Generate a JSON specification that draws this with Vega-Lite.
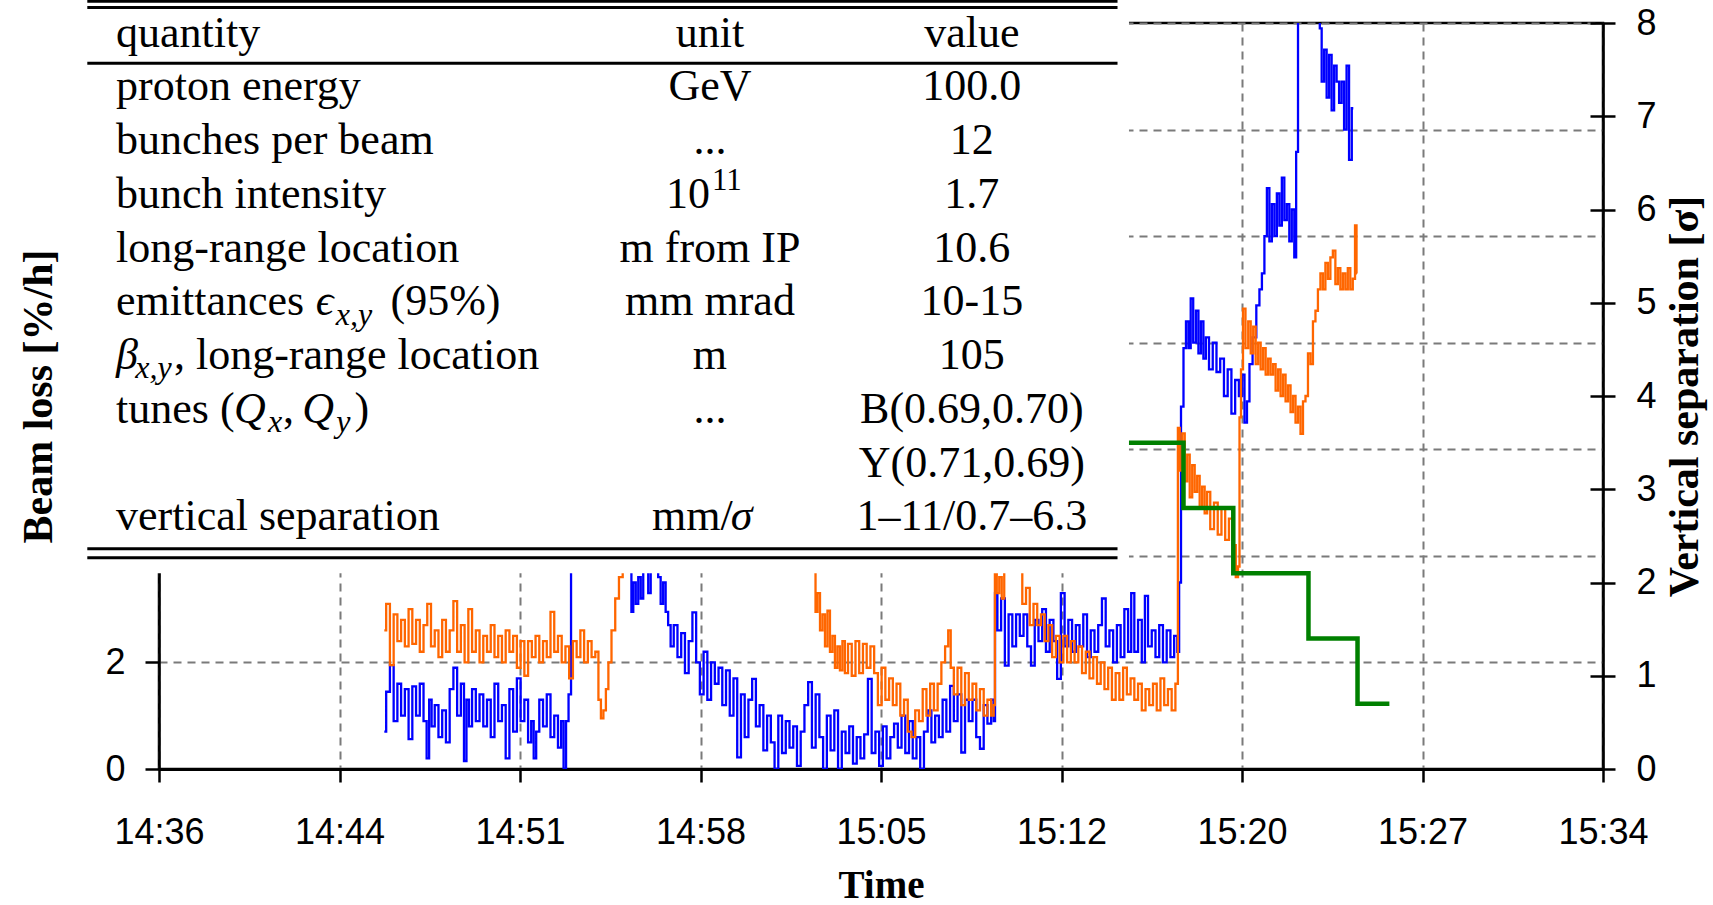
{
"$schema": "https://vega.github.io/schema/vega-lite/v6.json",
"width": 1444,
"height": 746,
"autosize": "none",
"padding": {"left": 159, "top": 23, "right": 110, "bottom": 136},
"background": "white",
"config": {
  "view": {"stroke": "black", "strokeWidth": 2.5},
  "axis": {"zindex": 0, "labelColor": "black", "titleColor": "black", "domainColor": "black", "tickColor": "black", "labelFont": "Liberation Sans", "labelFontSize": 36, "titleFont": "Liberation Serif", "titleFontWeight": "bold", "gridColor": "#7a7a7a", "gridDash": [8, 6], "gridWidth": 2, "domainWidth": 2.5, "tickWidth": 2.5, "labelFlush": false, "labelOverlap": false}
},
"datasets": {
  "blue": [
    {"t":9.05,"loss":0.7},{"t":9.2,"loss":1.45},{"t":9.35,"loss":1.95},{"t":9.5,"loss":0.9},{"t":9.65,"loss":1.6},{"t":9.8,"loss":1.0},{"t":9.95,"loss":1.5},{"t":10.1,"loss":0.56},{"t":10.25,"loss":1.55},{"t":10.4,"loss":1.0},{"t":10.55,"loss":1.6},{"t":10.7,"loss":0.9},{"t":10.8,"loss":0.2},{"t":10.9,"loss":1.3},{"t":11.0,"loss":0.8},{"t":11.15,"loss":1.2},{"t":11.3,"loss":0.6},{"t":11.45,"loss":1.1},{"t":11.6,"loss":0.5},{"t":11.75,"loss":1.5},{"t":11.9,"loss":1.9},{"t":12.05,"loss":1.0},{"t":12.2,"loss":1.6},{"t":12.3,"loss":0.15},{"t":12.4,"loss":1.3},{"t":12.5,"loss":0.8},{"t":12.65,"loss":1.5},{"t":12.8,"loss":0.9},{"t":12.95,"loss":1.4},{"t":13.1,"loss":0.8},{"t":13.25,"loss":1.3},{"t":13.4,"loss":0.6},{"t":13.55,"loss":1.6},{"t":13.7,"loss":0.9},{"t":13.85,"loss":1.2},{"t":14.0,"loss":0.2},{"t":14.15,"loss":1.5},{"t":14.3,"loss":0.7},{"t":14.45,"loss":1.7},{"t":14.6,"loss":0.9},{"t":14.75,"loss":1.3},{"t":14.9,"loss":0.5},{"t":15.0,"loss":0.9},{"t":15.1,"loss":0.2},{"t":15.2,"loss":0.7},{"t":15.35,"loss":1.3},{"t":15.5,"loss":0.8},{"t":15.65,"loss":1.4},{"t":15.8,"loss":0.6},{"t":15.95,"loss":1.0},{"t":16.1,"loss":0.4},{"t":16.2,"loss":0.9},{"t":16.3,"loss":0.0},{"t":16.4,"loss":0.9},{"t":16.5,"loss":1.4},{"t":16.6,"loss":4.5},{"t":17.0,"loss":5.5},{"t":17.5,"loss":6.0},{"t":18.0,"loss":6.2},{"t":18.5,"loss":5.0},{"t":18.95,"loss":4.0},{"t":19.0,"loss":2.95},{"t":19.1,"loss":3.5},{"t":19.2,"loss":3.1},{"t":19.3,"loss":3.6},{"t":19.4,"loss":3.2},{"t":19.5,"loss":3.9},{"t":19.6,"loss":4.1},{"t":19.7,"loss":3.3},{"t":19.8,"loss":3.9},{"t":19.9,"loss":4.2},{"t":20.0,"loss":4.0},{"t":20.1,"loss":3.6},{"t":20.2,"loss":3.1},{"t":20.3,"loss":3.5},{"t":20.4,"loss":2.95},{"t":20.5,"loss":2.7},{"t":20.6,"loss":2.3},{"t":20.75,"loss":2.7},{"t":20.9,"loss":2.1},{"t":21.05,"loss":2.55},{"t":21.2,"loss":1.8},{"t":21.35,"loss":2.4},{"t":21.5,"loss":2.94},{"t":21.65,"loss":2.0},{"t":21.8,"loss":1.4},{"t":21.95,"loss":2.2},{"t":22.1,"loss":1.3},{"t":22.25,"loss":2.0},{"t":22.4,"loss":1.6},{"t":22.55,"loss":1.9},{"t":22.7,"loss":1.2},{"t":22.85,"loss":1.85},{"t":23.0,"loss":1.0},{"t":23.15,"loss":1.7},{"t":23.3,"loss":0.22},{"t":23.45,"loss":1.4},{"t":23.6,"loss":0.6},{"t":23.75,"loss":1.3},{"t":23.9,"loss":1.69},{"t":24.05,"loss":0.8},{"t":24.2,"loss":1.2},{"t":24.35,"loss":0.35},{"t":24.5,"loss":1.0},{"t":24.65,"loss":0.5},{"t":24.8,"loss":0.0},{"t":24.95,"loss":1.0},{"t":25.1,"loss":0.3},{"t":25.25,"loss":0.9},{"t":25.4,"loss":0.4},{"t":25.55,"loss":0.8},{"t":25.7,"loss":0.06},{"t":25.85,"loss":0.7},{"t":26.0,"loss":1.2},{"t":26.15,"loss":1.63},{"t":26.3,"loss":0.4},{"t":26.45,"loss":1.4},{"t":26.6,"loss":0.6},{"t":26.75,"loss":0.0},{"t":26.9,"loss":1.0},{"t":27.05,"loss":0.35},{"t":27.2,"loss":1.1},{"t":27.35,"loss":0.0},{"t":27.5,"loss":0.7},{"t":27.65,"loss":0.3},{"t":27.8,"loss":0.8},{"t":27.95,"loss":0.1},{"t":28.1,"loss":0.6},{"t":28.25,"loss":0.2},{"t":28.4,"loss":0.65},{"t":28.55,"loss":1.69},{"t":28.7,"loss":0.3},{"t":28.85,"loss":0.7},{"t":29.0,"loss":0.06},{"t":29.15,"loss":0.8},{"t":29.3,"loss":0.2},{"t":29.45,"loss":0.6},{"t":29.6,"loss":0.85},{"t":29.75,"loss":0.4},{"t":29.9,"loss":1.0},{"t":30.05,"loss":0.3},{"t":30.2,"loss":0.9},{"t":30.35,"loss":0.2},{"t":30.5,"loss":0.6},{"t":30.65,"loss":0.0},{"t":30.8,"loss":0.7},{"t":30.95,"loss":1.1},{"t":31.1,"loss":0.5},{"t":31.25,"loss":1.0},{"t":31.4,"loss":0.6},{"t":31.55,"loss":1.3},{"t":31.7,"loss":0.7},{"t":31.85,"loss":1.56},{"t":32.0,"loss":0.9},{"t":32.15,"loss":1.4},{"t":32.3,"loss":0.31},{"t":32.45,"loss":1.3},{"t":32.6,"loss":0.9},{"t":32.75,"loss":1.3},{"t":32.9,"loss":0.6},{"t":33.05,"loss":0.38},{"t":33.2,"loss":1.2},{"t":33.35,"loss":0.85},{"t":33.5,"loss":1.3},{"t":33.56,"loss":0.9},{"t":33.6,"loss":3.3},{"t":33.75,"loss":2.6},{"t":33.9,"loss":3.2},{"t":34.05,"loss":1.94},{"t":34.2,"loss":2.9},{"t":34.35,"loss":2.3},{"t":34.5,"loss":2.9},{"t":34.65,"loss":2.5},{"t":34.8,"loss":2.9},{"t":34.95,"loss":2.3},{"t":35.1,"loss":1.94},{"t":35.25,"loss":2.8},{"t":35.4,"loss":2.4},{"t":35.55,"loss":3.0},{"t":35.7,"loss":2.2},{"t":35.85,"loss":2.8},{"t":36.0,"loss":2.4},{"t":36.15,"loss":1.69},{"t":36.3,"loss":3.3},{"t":36.45,"loss":2.3},{"t":36.6,"loss":2.8},{"t":36.75,"loss":2.2},{"t":36.9,"loss":2.7},{"t":37.05,"loss":2.3},{"t":37.2,"loss":2.9},{"t":37.35,"loss":2.1},{"t":37.5,"loss":2.6},{"t":37.65,"loss":2.2},{"t":37.8,"loss":2.7},{"t":37.95,"loss":3.2},{"t":38.1,"loss":2.3},{"t":38.25,"loss":2.6},{"t":38.4,"loss":2.0},{"t":38.55,"loss":2.7},{"t":38.7,"loss":2.1},{"t":38.85,"loss":3.0},{"t":39.0,"loss":2.2},{"t":39.1,"loss":3.3},{"t":39.25,"loss":2.2},{"t":39.4,"loss":2.8},{"t":39.55,"loss":2.0},{"t":39.65,"loss":3.25},{"t":39.8,"loss":2.3},{"t":39.95,"loss":2.6},{"t":40.1,"loss":2.1},{"t":40.25,"loss":2.7},{"t":40.4,"loss":2.0},{"t":40.55,"loss":2.6},{"t":40.7,"loss":2.1},{"t":40.85,"loss":2.5},{"t":40.95,"loss":2.2},{"t":41.0,"loss":3.5},{"t":41.1,"loss":6.8},{"t":41.2,"loss":7.9},{"t":41.3,"loss":8.4},{"t":41.4,"loss":7.9},{"t":41.48,"loss":8.83},{"t":41.6,"loss":8.0},{"t":41.7,"loss":8.6},{"t":41.8,"loss":7.8},{"t":41.9,"loss":8.4},{"t":42.0,"loss":7.7},{"t":42.1,"loss":8.1},{"t":42.25,"loss":7.5},{"t":42.4,"loss":8.0},{"t":42.55,"loss":7.45},{"t":42.7,"loss":7.7},{"t":42.85,"loss":7.0},{"t":43.0,"loss":7.5},{"t":43.15,"loss":6.67},{"t":43.3,"loss":7.3},{"t":43.45,"loss":7.0},{"t":43.55,"loss":7.4},{"t":43.65,"loss":6.5},{"t":43.75,"loss":6.9},{"t":43.85,"loss":7.6},{"t":44.0,"loss":8.1},{"t":44.15,"loss":8.7},{"t":44.25,"loss":9.0},{"t":44.35,"loss":9.3},{"t":44.45,"loss":10.0},{"t":44.55,"loss":10.9},{"t":44.65,"loss":9.9},{"t":44.75,"loss":10.6},{"t":44.85,"loss":10.0},{"t":44.95,"loss":10.8},{"t":45.05,"loss":10.2},{"t":45.15,"loss":11.1},{"t":45.25,"loss":10.3},{"t":45.35,"loss":10.6},{"t":45.45,"loss":9.9},{"t":45.55,"loss":10.5},{"t":45.65,"loss":9.6},{"t":45.7,"loss":11.58},{"t":45.8,"loss":15},{"t":46.6,"loss":15},{"t":46.65,"loss":13.9},{"t":46.75,"loss":12.9},{"t":46.85,"loss":13.5},{"t":46.95,"loss":12.6},{"t":47.05,"loss":13.4},{"t":47.15,"loss":12.36},{"t":47.25,"loss":13.2},{"t":47.35,"loss":12.9},{"t":47.45,"loss":12.5},{"t":47.55,"loss":12.9},{"t":47.65,"loss":12.0},{"t":47.75,"loss":13.2},{"t":47.85,"loss":11.43},{"t":47.97,"loss":12.4}
  ],
  "yellow": [
    {"t":9.05,"loss":2.6},{"t":9.2,"loss":3.1},{"t":9.35,"loss":1.95},{"t":9.5,"loss":2.9},{"t":9.65,"loss":2.4},{"t":9.8,"loss":2.8},{"t":9.95,"loss":2.3},{"t":10.1,"loss":3.0},{"t":10.25,"loss":2.35},{"t":10.4,"loss":2.8},{"t":10.55,"loss":2.2},{"t":10.7,"loss":2.7},{"t":10.85,"loss":3.1},{"t":11.0,"loss":2.3},{"t":11.15,"loss":2.6},{"t":11.3,"loss":2.1},{"t":11.45,"loss":2.8},{"t":11.6,"loss":2.2},{"t":11.75,"loss":2.6},{"t":11.9,"loss":3.15},{"t":12.05,"loss":2.2},{"t":12.2,"loss":2.7},{"t":12.35,"loss":2.0},{"t":12.5,"loss":3.0},{"t":12.65,"loss":2.2},{"t":12.8,"loss":2.6},{"t":12.95,"loss":2.0},{"t":13.1,"loss":2.5},{"t":13.25,"loss":2.2},{"t":13.4,"loss":2.7},{"t":13.55,"loss":2.1},{"t":13.7,"loss":2.5},{"t":13.85,"loss":2.0},{"t":14.0,"loss":2.6},{"t":14.15,"loss":2.2},{"t":14.3,"loss":2.5},{"t":14.45,"loss":1.9},{"t":14.6,"loss":2.4},{"t":14.75,"loss":1.75},{"t":14.9,"loss":2.4},{"t":15.05,"loss":2.1},{"t":15.2,"loss":2.5},{"t":15.35,"loss":2.0},{"t":15.5,"loss":2.4},{"t":15.65,"loss":2.1},{"t":15.8,"loss":2.95},{"t":15.95,"loss":2.2},{"t":16.1,"loss":2.5},{"t":16.25,"loss":2.0},{"t":16.4,"loss":2.3},{"t":16.55,"loss":1.7},{"t":16.7,"loss":2.4},{"t":16.85,"loss":2.1},{"t":17.0,"loss":2.6},{"t":17.15,"loss":2.0},{"t":17.3,"loss":2.4},{"t":17.45,"loss":2.1},{"t":17.6,"loss":2.2},{"t":17.7,"loss":1.3},{"t":17.8,"loss":0.95},{"t":17.9,"loss":1.1},{"t":18.0,"loss":1.5},{"t":18.1,"loss":2.0},{"t":18.25,"loss":2.6},{"t":18.4,"loss":3.2},{"t":18.55,"loss":3.6},{"t":18.7,"loss":4.2},{"t":19.5,"loss":5.0},{"t":20.5,"loss":6.0},{"t":21.5,"loss":6.5},{"t":22.5,"loss":6.0},{"t":23.5,"loss":5.5},{"t":24.5,"loss":5.0},{"t":25.5,"loss":4.6},{"t":26.2,"loss":4.4},{"t":26.34,"loss":3.9},{"t":26.4,"loss":2.95},{"t":26.5,"loss":3.3},{"t":26.6,"loss":2.6},{"t":26.7,"loss":2.9},{"t":26.8,"loss":2.3},{"t":26.9,"loss":2.97},{"t":27.0,"loss":2.2},{"t":27.1,"loss":2.5},{"t":27.2,"loss":1.9},{"t":27.3,"loss":2.3},{"t":27.4,"loss":1.85},{"t":27.5,"loss":2.4},{"t":27.6,"loss":1.8},{"t":27.75,"loss":2.35},{"t":27.9,"loss":1.75},{"t":28.05,"loss":2.4},{"t":28.2,"loss":1.8},{"t":28.35,"loss":2.35},{"t":28.5,"loss":1.9},{"t":28.65,"loss":2.3},{"t":28.8,"loss":1.8},{"t":28.95,"loss":1.2},{"t":29.1,"loss":1.9},{"t":29.25,"loss":1.3},{"t":29.4,"loss":1.7},{"t":29.55,"loss":1.2},{"t":29.7,"loss":1.6},{"t":29.85,"loss":1.0},{"t":30.0,"loss":1.3},{"t":30.15,"loss":0.7},{"t":30.3,"loss":0.6},{"t":30.45,"loss":1.1},{"t":30.6,"loss":0.9},{"t":30.75,"loss":1.5},{"t":30.9,"loss":1.0},{"t":31.05,"loss":1.6},{"t":31.2,"loss":1.1},{"t":31.35,"loss":1.6},{"t":31.5,"loss":2.0},{"t":31.65,"loss":2.3},{"t":31.75,"loss":2.6},{"t":31.85,"loss":1.9},{"t":32.0,"loss":1.4},{"t":32.15,"loss":1.9},{"t":32.3,"loss":1.2},{"t":32.45,"loss":1.8},{"t":32.6,"loss":1.3},{"t":32.75,"loss":1.6},{"t":32.9,"loss":1.1},{"t":33.05,"loss":1.5},{"t":33.2,"loss":1.0},{"t":33.35,"loss":1.3},{"t":33.5,"loss":1.0},{"t":33.55,"loss":1.2},{"t":33.6,"loss":3.8},{"t":33.7,"loss":3.3},{"t":33.8,"loss":3.6},{"t":33.9,"loss":3.2},{"t":34.0,"loss":3.7},{"t":34.15,"loss":3.9},{"t":34.3,"loss":4.0},{"t":34.45,"loss":3.8},{"t":34.6,"loss":3.7},{"t":34.75,"loss":3.1},{"t":34.9,"loss":3.4},{"t":35.05,"loss":2.7},{"t":35.2,"loss":3.1},{"t":35.35,"loss":2.7},{"t":35.5,"loss":2.9},{"t":35.65,"loss":2.4},{"t":35.8,"loss":2.7},{"t":35.95,"loss":2.1},{"t":36.1,"loss":2.5},{"t":36.25,"loss":2.0},{"t":36.4,"loss":2.5},{"t":36.55,"loss":2.0},{"t":36.7,"loss":2.4},{"t":36.85,"loss":2.0},{"t":37.0,"loss":2.3},{"t":37.15,"loss":1.8},{"t":37.3,"loss":2.2},{"t":37.45,"loss":1.7},{"t":37.6,"loss":2.1},{"t":37.75,"loss":1.6},{"t":37.9,"loss":2.0},{"t":38.05,"loss":1.5},{"t":38.2,"loss":1.9},{"t":38.35,"loss":1.3},{"t":38.5,"loss":1.8},{"t":38.65,"loss":1.3},{"t":38.8,"loss":1.9},{"t":38.95,"loss":1.4},{"t":39.1,"loss":1.7},{"t":39.25,"loss":1.3},{"t":39.4,"loss":1.6},{"t":39.55,"loss":1.1},{"t":39.7,"loss":1.5},{"t":39.85,"loss":1.2},{"t":40.0,"loss":1.6},{"t":40.15,"loss":1.1},{"t":40.3,"loss":1.7},{"t":40.45,"loss":1.2},{"t":40.6,"loss":1.5},{"t":40.75,"loss":1.1},{"t":40.9,"loss":1.6},{"t":40.95,"loss":6.4},{"t":41.05,"loss":5.6},{"t":41.15,"loss":6.3},{"t":41.25,"loss":5.4},{"t":41.35,"loss":5.9},{"t":41.45,"loss":5.1},{"t":41.55,"loss":5.7},{"t":41.65,"loss":5.2},{"t":41.75,"loss":5.5},{"t":41.85,"loss":4.9},{"t":41.95,"loss":5.3},{"t":42.05,"loss":4.8},{"t":42.15,"loss":5.2},{"t":42.3,"loss":4.5},{"t":42.45,"loss":5.0},{"t":42.6,"loss":4.4},{"t":42.75,"loss":4.9},{"t":42.9,"loss":4.3},{"t":43.05,"loss":4.7},{"t":43.2,"loss":4.2},{"t":43.3,"loss":3.6},{"t":43.38,"loss":3.8},{"t":43.42,"loss":6.6},{"t":43.5,"loss":7.5},{"t":43.58,"loss":8.64},{"t":43.7,"loss":7.9},{"t":43.8,"loss":8.4},{"t":43.9,"loss":7.8},{"t":44.0,"loss":8.3},{"t":44.1,"loss":7.6},{"t":44.2,"loss":8.0},{"t":44.3,"loss":7.5},{"t":44.4,"loss":7.9},{"t":44.5,"loss":7.4},{"t":44.6,"loss":7.7},{"t":44.7,"loss":7.4},{"t":44.8,"loss":7.6},{"t":44.9,"loss":7.1},{"t":45.0,"loss":7.5},{"t":45.1,"loss":7.0},{"t":45.2,"loss":7.4},{"t":45.3,"loss":6.9},{"t":45.4,"loss":7.2},{"t":45.5,"loss":6.7},{"t":45.6,"loss":7.0},{"t":45.7,"loss":6.5},{"t":45.8,"loss":6.8},{"t":45.9,"loss":6.29},{"t":46.0,"loss":6.9},{"t":46.1,"loss":7.0},{"t":46.2,"loss":7.8},{"t":46.3,"loss":7.6},{"t":46.4,"loss":8.4},{"t":46.5,"loss":8.6},{"t":46.6,"loss":9.0},{"t":46.7,"loss":9.3},{"t":46.8,"loss":9.0},{"t":46.9,"loss":9.5},{"t":47.0,"loss":9.2},{"t":47.1,"loss":9.6},{"t":47.2,"loss":9.73},{"t":47.3,"loss":9.1},{"t":47.4,"loss":9.4},{"t":47.5,"loss":9.0},{"t":47.6,"loss":9.3},{"t":47.7,"loss":9.0},{"t":47.8,"loss":9.4},{"t":47.9,"loss":9.0},{"t":48.0,"loss":9.2},{"t":48.08,"loss":10.2},{"t":48.12,"loss":9.3}
  ],
  "sep": [
    {"t":38.0,"sep":3.5},{"t":41.15,"sep":2.8},{"t":43.15,"sep":2.1},{"t":46.17,"sep":1.4},{"t":48.14,"sep":0.7},{"t":49.42,"sep":0.7}
  ],
  "table": [
    {"row":0,"col":"q","text":"quantity"},{"row":1,"col":"q","text":"proton energy"},{"row":2,"col":"q","text":"bunches per beam"},{"row":3,"col":"q","text":"bunch intensity"},{"row":4,"col":"q","text":"long-range location"},{"row":5,"col":"q","text":"emittances"},{"row":7,"col":"q","text":"tunes ("},{"row":9,"col":"q","text":"vertical separation"},
    {"row":0,"col":"u","text":"unit"},{"row":1,"col":"u","text":"GeV"},{"row":2,"col":"u","text":"..."},{"row":4,"col":"u","text":"m from IP"},{"row":5,"col":"u","text":"mm mrad"},{"row":6,"col":"u","text":"m"},{"row":7,"col":"u","text":"..."},
    {"row":0,"col":"v","text":"value"},{"row":1,"col":"v","text":"100.0"},{"row":2,"col":"v","text":"12"},{"row":3,"col":"v","text":"1.7"},{"row":4,"col":"v","text":"10.6"},{"row":5,"col":"v","text":"10-15"},{"row":6,"col":"v","text":"105"},{"row":7,"col":"v","text":"B(0.69,0.70)"},{"row":8,"col":"v","text":"Y(0.71,0.69)"},{"row":9,"col":"v","text":"1–11/0.7–6.3"}
  ]
},
"resolve": {"scale": {"y": "independent"}},
"layer": [
  {
    "data": {"name": "blue"},
    "mark": {"type": "line", "color": "#0000ff", "strokeWidth": 2.3, "interpolate": "step", "clip": true},
    "encoding": {
      "x": {"field": "t", "type": "quantitative", "scale": {"domain": [0, 58], "nice": false},
            "axis": {"values": [0, 7.25, 14.5, 21.75, 29, 36.25, 43.5, 50.75, 58],
                     "labelExpr": "['14:36','14:44','14:51','14:58','15:05','15:12','15:20','15:27','15:34'][round(datum.value/7.25)]",
                     "title": "Time", "titleFontSize": 39, "titlePadding": 16, "grid": true, "domainWidth": 3, "tickSize": 13, "labelPadding": 33}},
      "y": {"field": "loss", "type": "quantitative", "scale": {"domain": [0, 14], "nice": false},
            "axis": {"orient": "left", "values": [0, 2, 4, 6, 8, 10, 12, 14], "labelExpr": "datum.value <= 2 ? datum.label : ''", "title": "Beam loss [%/h]", "titleFontSize": 42, "titlePadding": 44, "grid": true, "tickSize": 14, "labelPadding": 20}}
    }
  },
  {
    "data": {"name": "yellow"},
    "mark": {"type": "line", "color": "#ff6600", "strokeWidth": 2.3, "interpolate": "step", "clip": true},
    "encoding": {
      "x": {"field": "t", "type": "quantitative", "scale": {"domain": [0, 58], "nice": false}},
      "y": {"field": "loss", "type": "quantitative", "scale": {"domain": [0, 14], "nice": false}, "axis": null}
    }
  },
  {
    "data": {"name": "sep"},
    "mark": {"type": "line", "color": "#008000", "strokeWidth": 4.5, "interpolate": "step-after", "strokeJoin": "miter"},
    "encoding": {
      "x": {"field": "t", "type": "quantitative", "scale": {"domain": [0, 58], "nice": false}},
      "y": {"field": "sep", "type": "quantitative", "scale": {"domain": [0, 8], "nice": false},
            "axis": {"orient": "right", "values": [0, 1, 2, 3, 4, 5, 6, 7, 8], "grid": false, "title": "Vertical separation [σ]", "titleAngle": 270, "titleBaseline": "top", "titleFontSize": 42, "titlePadding": 8, "tickSize": 12, "labelPadding": 21}}
    }
  },
  {
    "data": {"name": "sep"},
    "mark": {"type": "line", "opacity": 0},
    "encoding": {
      "x": {"field": "t", "type": "quantitative", "scale": {"domain": [0, 58], "nice": false}},
      "y": {"field": "sep", "type": "quantitative", "scale": {"domain": [0, 8], "nice": false},
            "axis": {"orient": "right", "offset": -13, "values": [0, 1, 2, 3, 4, 5, 6, 7, 8], "grid": false, "labels": false, "domain": false, "title": null, "tickSize": 13}}
    }
  },
  {
    "layer": [
      {
        "data": {"values": [{}]},
        "mark": {"type": "rect", "color": "white"},
        "encoding": {
          "x": {"datum": -3.17, "type": "quantitative", "scale": {"domain": [0, 58], "nice": false}},
          "x2": {"datum": 38.96},
          "y": {"datum": -1.0, "type": "quantitative", "scale": {"domain": [-0.441, 13.442], "reverse": true, "nice": false}, "axis": null},
          "y2": {"datum": 9.8}
        }
      },
      {
        "data": {"values": [{}]},
        "mark": {"type": "rule", "color": "black", "strokeWidth": 3},
        "encoding": {
          "x": {"datum": -2.88, "type": "quantitative", "scale": {"domain": [0, 58], "nice": false}},
          "x2": {"datum": 38.5},
          "y": {"datum": -0.845, "type": "quantitative", "scale": {"domain": [-0.441, 13.442], "reverse": true, "nice": false}, "axis": null}
        }
      },
      {
        "data": {"values": [{}]},
        "mark": {"type": "rule", "color": "black", "strokeWidth": 3},
        "encoding": {
          "x": {"datum": -2.88, "type": "quantitative", "scale": {"domain": [0, 58], "nice": false}},
          "x2": {"datum": 38.5},
          "y": {"datum": -0.73, "type": "quantitative", "scale": {"domain": [-0.441, 13.442], "reverse": true, "nice": false}, "axis": null}
        }
      },
      {
        "data": {"values": [{}]},
        "mark": {"type": "rule", "color": "black", "strokeWidth": 3},
        "encoding": {
          "x": {"datum": -2.88, "type": "quantitative", "scale": {"domain": [0, 58], "nice": false}},
          "x2": {"datum": 38.5},
          "y": {"datum": 0.309, "type": "quantitative", "scale": {"domain": [-0.441, 13.442], "reverse": true, "nice": false}, "axis": null}
        }
      },
      {
        "data": {"values": [{}]},
        "mark": {"type": "rule", "color": "black", "strokeWidth": 3},
        "encoding": {
          "x": {"datum": -2.88, "type": "quantitative", "scale": {"domain": [0, 58], "nice": false}},
          "x2": {"datum": 38.5},
          "y": {"datum": 9.341, "type": "quantitative", "scale": {"domain": [-0.441, 13.442], "reverse": true, "nice": false}, "axis": null}
        }
      },
      {
        "data": {"values": [{}]},
        "mark": {"type": "rule", "color": "black", "strokeWidth": 3},
        "encoding": {
          "x": {"datum": -2.88, "type": "quantitative", "scale": {"domain": [0, 58], "nice": false}},
          "x2": {"datum": 38.5},
          "y": {"datum": 9.509, "type": "quantitative", "scale": {"domain": [-0.441, 13.442], "reverse": true, "nice": false}, "axis": null}
        }
      },
      {
        "data": {"name": "table"},
        "transform": [{"filter": "datum.col === 'q'"}],
        "mark": {"type": "text", "align": "left", "baseline": "alphabetic", "font": "Liberation Serif", "fontSize": 44, "color": "black"},
        "encoding": {
          "x": {"datum": -1.727, "type": "quantitative", "scale": {"domain": [0, 58], "nice": false}},
          "y": {"field": "row", "type": "quantitative", "scale": {"domain": [-0.441, 13.442], "reverse": true, "nice": false}, "axis": null},
          "text": {"field": "text"}
        }
      },
      {
        "data": {"name": "table"},
        "transform": [{"filter": "datum.col === 'u'"}],
        "mark": {"type": "text", "align": "center", "baseline": "alphabetic", "font": "Liberation Serif", "fontSize": 44, "color": "black"},
        "encoding": {
          "x": {"datum": 22.13, "type": "quantitative", "scale": {"domain": [0, 58], "nice": false}},
          "y": {"field": "row", "type": "quantitative", "scale": {"domain": [-0.441, 13.442], "reverse": true, "nice": false}, "axis": null},
          "text": {"field": "text"}
        }
      },
      {
        "data": {"name": "table"},
        "transform": [{"filter": "datum.col === 'v'"}],
        "mark": {"type": "text", "align": "center", "baseline": "alphabetic", "font": "Liberation Serif", "fontSize": 44, "color": "black"},
        "encoding": {
          "x": {"datum": 32.65, "type": "quantitative", "scale": {"domain": [0, 58], "nice": false}},
          "y": {"field": "row", "type": "quantitative", "scale": {"domain": [-0.441, 13.442], "reverse": true, "nice": false}, "axis": null},
          "text": {"field": "text"}
        }
      },
      {"data": {"values": [{"s": "ϵ"}]}, "mark": {"type": "text", "align": "left", "baseline": "alphabetic", "font": "Liberation Serif, DejaVu Serif", "fontStyle": "italic", "fontSize": 44, "color": "black"},
       "encoding": {"x": {"datum": 6.3, "type": "quantitative", "scale": {"domain": [0, 58], "nice": false}}, "y": {"datum": 5, "type": "quantitative", "scale": {"domain": [-0.441, 13.442], "reverse": true, "nice": false}, "axis": null}, "text": {"field": "s"}}},
      {"data": {"values": [{"s": "x,y"}]}, "mark": {"type": "text", "align": "left", "baseline": "alphabetic", "font": "Liberation Serif", "fontStyle": "italic", "fontSize": 32, "color": "black"},
       "encoding": {"x": {"datum": 7.1, "type": "quantitative", "scale": {"domain": [0, 58], "nice": false}}, "y": {"datum": 5.17, "type": "quantitative", "scale": {"domain": [-0.441, 13.442], "reverse": true, "nice": false}, "axis": null}, "text": {"field": "s"}}},
      {"data": {"values": [{"s": "(95%)"}]}, "mark": {"type": "text", "align": "left", "baseline": "alphabetic", "font": "Liberation Serif", "fontSize": 44, "color": "black"},
       "encoding": {"x": {"datum": 9.3, "type": "quantitative", "scale": {"domain": [0, 58], "nice": false}}, "y": {"datum": 5, "type": "quantitative", "scale": {"domain": [-0.441, 13.442], "reverse": true, "nice": false}, "axis": null}, "text": {"field": "s"}}},
      {"data": {"values": [{"s": "β"}]}, "mark": {"type": "text", "align": "left", "baseline": "alphabetic", "font": "Liberation Serif, DejaVu Serif", "fontStyle": "italic", "fontSize": 44, "color": "black"},
       "encoding": {"x": {"datum": -1.727, "type": "quantitative", "scale": {"domain": [0, 58], "nice": false}}, "y": {"datum": 6, "type": "quantitative", "scale": {"domain": [-0.441, 13.442], "reverse": true, "nice": false}, "axis": null}, "text": {"field": "s"}}},
      {"data": {"values": [{"s": "x,y"}]}, "mark": {"type": "text", "align": "left", "baseline": "alphabetic", "font": "Liberation Serif", "fontStyle": "italic", "fontSize": 32, "color": "black"},
       "encoding": {"x": {"datum": -0.95, "type": "quantitative", "scale": {"domain": [0, 58], "nice": false}}, "y": {"datum": 6.17, "type": "quantitative", "scale": {"domain": [-0.441, 13.442], "reverse": true, "nice": false}, "axis": null}, "text": {"field": "s"}}},
      {"data": {"values": [{"s": ", long-range location"}]}, "mark": {"type": "text", "align": "left", "baseline": "alphabetic", "font": "Liberation Serif", "fontSize": 44, "color": "black"},
       "encoding": {"x": {"datum": 0.6, "type": "quantitative", "scale": {"domain": [0, 58], "nice": false}}, "y": {"datum": 6, "type": "quantitative", "scale": {"domain": [-0.441, 13.442], "reverse": true, "nice": false}, "axis": null}, "text": {"field": "s"}}},
      {"data": {"values": [{"s": "Q"}]}, "mark": {"type": "text", "align": "left", "baseline": "alphabetic", "font": "Liberation Serif", "fontStyle": "italic", "fontSize": 44, "color": "black"},
       "encoding": {"x": {"datum": 3.012, "type": "quantitative", "scale": {"domain": [0, 58], "nice": false}}, "y": {"datum": 7, "type": "quantitative", "scale": {"domain": [-0.441, 13.442], "reverse": true, "nice": false}, "axis": null}, "text": {"field": "s"}}},
      {"data": {"values": [{"s": "x"}]}, "mark": {"type": "text", "align": "left", "baseline": "alphabetic", "font": "Liberation Serif", "fontStyle": "italic", "fontSize": 32, "color": "black"},
       "encoding": {"x": {"datum": 4.378, "type": "quantitative", "scale": {"domain": [0, 58], "nice": false}}, "y": {"datum": 7.17, "type": "quantitative", "scale": {"domain": [-0.441, 13.442], "reverse": true, "nice": false}, "axis": null}, "text": {"field": "s"}}},
      {"data": {"values": [{"s": ","}]}, "mark": {"type": "text", "align": "left", "baseline": "alphabetic", "font": "Liberation Serif", "fontSize": 44, "color": "black"},
       "encoding": {"x": {"datum": 4.98, "type": "quantitative", "scale": {"domain": [0, 58], "nice": false}}, "y": {"datum": 7, "type": "quantitative", "scale": {"domain": [-0.441, 13.442], "reverse": true, "nice": false}, "axis": null}, "text": {"field": "s"}}},
      {"data": {"values": [{"s": "Q"}]}, "mark": {"type": "text", "align": "left", "baseline": "alphabetic", "font": "Liberation Serif", "fontStyle": "italic", "fontSize": 44, "color": "black"},
       "encoding": {"x": {"datum": 5.75, "type": "quantitative", "scale": {"domain": [0, 58], "nice": false}}, "y": {"datum": 7, "type": "quantitative", "scale": {"domain": [-0.441, 13.442], "reverse": true, "nice": false}, "axis": null}, "text": {"field": "s"}}},
      {"data": {"values": [{"s": "y"}]}, "mark": {"type": "text", "align": "left", "baseline": "alphabetic", "font": "Liberation Serif", "fontStyle": "italic", "fontSize": 32, "color": "black"},
       "encoding": {"x": {"datum": 7.12, "type": "quantitative", "scale": {"domain": [0, 58], "nice": false}}, "y": {"datum": 7.17, "type": "quantitative", "scale": {"domain": [-0.441, 13.442], "reverse": true, "nice": false}, "axis": null}, "text": {"field": "s"}}},
      {"data": {"values": [{"s": ")"}]}, "mark": {"type": "text", "align": "left", "baseline": "alphabetic", "font": "Liberation Serif", "fontSize": 44, "color": "black"},
       "encoding": {"x": {"datum": 7.85, "type": "quantitative", "scale": {"domain": [0, 58], "nice": false}}, "y": {"datum": 7, "type": "quantitative", "scale": {"domain": [-0.441, 13.442], "reverse": true, "nice": false}, "axis": null}, "text": {"field": "s"}}},
      {"data": {"values": [{"s": "10"}]}, "mark": {"type": "text", "align": "left", "baseline": "alphabetic", "font": "Liberation Serif", "fontSize": 44, "color": "black"},
       "encoding": {"x": {"datum": 20.36, "type": "quantitative", "scale": {"domain": [0, 58], "nice": false}}, "y": {"datum": 3, "type": "quantitative", "scale": {"domain": [-0.441, 13.442], "reverse": true, "nice": false}, "axis": null}, "text": {"field": "s"}}},
      {"data": {"values": [{"s": "11"}]}, "mark": {"type": "text", "align": "left", "baseline": "alphabetic", "font": "Liberation Serif", "fontSize": 31, "color": "black"},
       "encoding": {"x": {"datum": 22.21, "type": "quantitative", "scale": {"domain": [0, 58], "nice": false}}, "y": {"datum": 2.67, "type": "quantitative", "scale": {"domain": [-0.441, 13.442], "reverse": true, "nice": false}, "axis": null}, "text": {"field": "s"}}},
      {"data": {"values": [{"s": "mm/"}]}, "mark": {"type": "text", "align": "left", "baseline": "alphabetic", "font": "Liberation Serif", "fontSize": 44, "color": "black"},
       "encoding": {"x": {"datum": 19.8, "type": "quantitative", "scale": {"domain": [0, 58], "nice": false}}, "y": {"datum": 9, "type": "quantitative", "scale": {"domain": [-0.441, 13.442], "reverse": true, "nice": false}, "axis": null}, "text": {"field": "s"}}},
      {"data": {"values": [{"s": "σ"}]}, "mark": {"type": "text", "align": "left", "baseline": "alphabetic", "font": "Liberation Serif, DejaVu Serif", "fontStyle": "italic", "fontSize": 44, "color": "black"},
       "encoding": {"x": {"datum": 22.97, "type": "quantitative", "scale": {"domain": [0, 58], "nice": false}}, "y": {"datum": 9, "type": "quantitative", "scale": {"domain": [-0.441, 13.442], "reverse": true, "nice": false}, "axis": null}, "text": {"field": "s"}}}
    ]
  }
]
}
